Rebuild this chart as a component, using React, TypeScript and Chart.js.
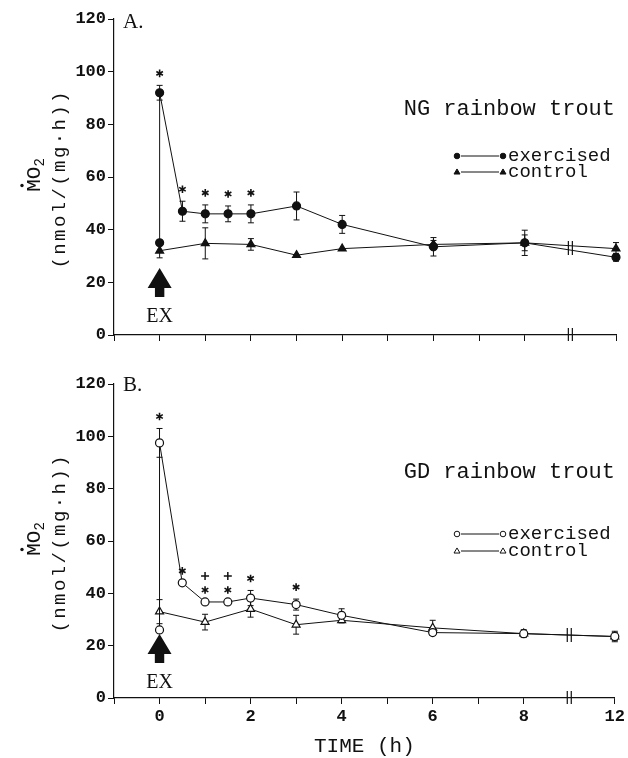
import React, { useEffect, useRef } from 'react';
import { Chart, registerables } from 'chart.js';

Chart.register(...registerables);

// ---------- data ----------
const TIME_EX = [0, 0, 0.5, 1, 1.5, 2, 3, 4, 6, 8, 12];
const TIME_CTRL = [0, 1, 2, 3, 4, 6, 8, 12];

const NG_EX = [35, 92, 47, 46, 46, 46, 49, 42, 33.5, 35, 29.5];
const NG_EX_SEM = [0, 2.8, 3.8, 3.4, 3, 3.4, 5.3, 3.4, 3.5, 4.8, 1.5];
const NG_CTRL = [32, 34.8, 34.4, 30.3, 32.8, 34.4, 35, 32.8];
const NG_CTRL_SEM = [2.7, 5.9, 2.2, 0, 0, 1.5, 3, 2.3];

const GD_EX = [26, 97.5, 44, 36.7, 36.7, 38.2, 35.7, 31.6, 25, 24.6, 23.5];
const GD_EX_SEM = [0, 5.5, 0, 0, 0, 2.9, 2.1, 2.5, 1, 1, 1.5];
const GD_CTRL = [33, 29, 34, 28, 29.7, 26.8, 24.6, 23.5];
const GD_CTRL_SEM = [4.6, 3, 3.1, 3.6, 1, 2.9, 1.5, 2];

// indices into the exercised arrays that carry significance marks
const NG_STAR_IDX = [1, 2, 3, 4, 5];
const NG_PLUS_IDX: number[] = [];
const GD_STAR_IDX = [1, 2, 3, 4, 5, 6];
const GD_PLUS_IDX = [3, 4];

const X_TICK_VALUES = [0, 2, 4, 6, 8, 12];
const Y_MIN = 0;
const Y_MAX = 120;
const Y_STEP = 20;
const X_MIN = -1;
const X_MAX = 10;
const BREAK_POS = 9; // axis position of the break (between 8 h and 12 h)

// ---------- helpers ----------
const axisPos = (t: number) => (t > BREAK_POS ? t - 2 : t);
const X_TICK_LABELS: Record<string, string> = Object.fromEntries(
  X_TICK_VALUES.map((t) => [String(axisPos(t)), String(t)])
);

const INK = '#111111';
const MONO = '"Liberation Mono", "DejaVu Sans Mono", monospace';
const SERIF = '"Liberation Serif", "DejaVu Serif", serif';

type Panel = {
  ex: number[];
  exSem: number[];
  ctrl: number[];
  ctrlSem: number[];
  filled: boolean;
  letter: string;
  name: string;
  stars: number[];
  plus: number[];
  showX: boolean;
  canvasTop: number;
  canvasH: number;
  padTop: number;
  xAxisH: number;
  letterBase: number;
  nameBase: number;
  leg1: number;
  leg2: number;
  exBase: number;
};

const PANELS: Panel[] = [
  {
    ex: NG_EX, exSem: NG_EX_SEM, ctrl: NG_CTRL, ctrlSem: NG_CTRL_SEM,
    filled: true, letter: 'A.', name: 'NG rainbow trout',
    stars: NG_STAR_IDX, plus: NG_PLUS_IDX, showX: false,
    canvasTop: 0, canvasH: 366, padTop: 19, xAxisH: 31,
    letterBase: 9, nameBase: 96, leg1: 137, leg2: 153, exBase: 13,
  },
  {
    ex: GD_EX, exSem: GD_EX_SEM, ctrl: GD_CTRL, ctrlSem: GD_CTRL_SEM,
    filled: false, letter: 'B.', name: 'GD rainbow trout',
    stars: GD_STAR_IDX, plus: GD_PLUS_IDX, showX: true,
    canvasTop: 366, canvasH: 392, padTop: 18, xAxisH: 60,
    letterBase: 7, nameBase: 94, leg1: 150, leg2: 167, exBase: 10,
  },
];

function drawMarker(ctx: CanvasRenderingContext2D, kind: 'circle' | 'triangle', x: number, y: number, r: number, filled: boolean) {
  ctx.beginPath();
  if (kind === 'circle') {
    ctx.arc(x, y, r, 0, Math.PI * 2);
  } else {
    const h = r * 1.7;
    ctx.moveTo(x, y - h * 0.6);
    ctx.lineTo(x + r, y + h * 0.4);
    ctx.lineTo(x - r, y + h * 0.4);
    ctx.closePath();
  }
  ctx.fillStyle = filled ? INK : '#fff';
  ctx.fill();
  ctx.lineWidth = 1;
  ctx.strokeStyle = INK;
  ctx.stroke();
}

function drawAsterisk(ctx: CanvasRenderingContext2D, x: number, y: number) {
  const r = 3.8;
  ctx.save();
  ctx.strokeStyle = INK;
  ctx.lineWidth = 1.6;
  ctx.beginPath();
  for (let k = 0; k < 3; k++) {
    const a = Math.PI / 2 + (k * Math.PI) / 3;
    ctx.moveTo(x + r * Math.cos(a), y + r * Math.sin(a));
    ctx.lineTo(x - r * Math.cos(a), y - r * Math.sin(a));
  }
  ctx.stroke();
  ctx.restore();
}

function drawPlus(ctx: CanvasRenderingContext2D, x: number, y: number) {
  const r = 4;
  ctx.save();
  ctx.strokeStyle = INK;
  ctx.lineWidth = 1.5;
  ctx.beginPath();
  ctx.moveTo(x - r, y);
  ctx.lineTo(x + r, y);
  ctx.moveTo(x, y - r);
  ctx.lineTo(x, y + r);
  ctx.stroke();
  ctx.restore();
}

function makeExtras(panel: Panel) {
  return {
    id: 'extras',
    beforeDatasetsDraw(chart: any) {
      const ctx: CanvasRenderingContext2D = chart.ctx;
      const ys = chart.scales.y;
      const sets = [
        { idx: 0, vals: panel.ex, sem: panel.exSem },
        { idx: 1, vals: panel.ctrl, sem: panel.ctrlSem },
      ];
      ctx.save();
      ctx.strokeStyle = INK;
      ctx.lineWidth = 1;
      for (const s of sets) {
        const meta = chart.getDatasetMeta(s.idx);
        s.vals.forEach((v, j) => {
          const e = s.sem[j];
          if (!e) return;
          const pt = meta.data[j];
          const yT = ys.getPixelForValue(v + e);
          const yB = ys.getPixelForValue(v - e);
          ctx.beginPath();
          ctx.moveTo(pt.x, yT);
          ctx.lineTo(pt.x, yB);
          ctx.moveTo(pt.x - 3, yT);
          ctx.lineTo(pt.x + 3, yT);
          ctx.moveTo(pt.x - 3, yB);
          ctx.lineTo(pt.x + 3, yB);
          ctx.stroke();
        });
      }
      ctx.restore();
    },
    afterDraw(chart: any) {
      const ctx: CanvasRenderingContext2D = chart.ctx;
      const xs = chart.scales.x;
      const ys = chart.scales.y;
      const area = chart.chartArea;
      ctx.save();
      ctx.fillStyle = INK;
      ctx.strokeStyle = INK;

      // significance marks
      const meta = chart.getDatasetMeta(0);
      panel.stars.forEach((j) => {
        const pt = meta.data[j];
        const top = ys.getPixelForValue(panel.ex[j] + (panel.exSem[j] || 0));
        drawAsterisk(ctx, pt.x, top - 12);
      });
      panel.plus.forEach((j) => {
        const pt = meta.data[j];
        const top = ys.getPixelForValue(panel.ex[j] + (panel.exSem[j] || 0));
        drawPlus(ctx, pt.x, top - 26);
      });

      // axis break marks
      const bx = xs.getPixelForValue(BREAK_POS);
      ctx.lineWidth = 1.2;
      ctx.beginPath();
      for (const dx of [-2, 2]) {
        ctx.moveTo(bx + dx, area.bottom - 7);
        ctx.lineTo(bx + dx, area.bottom + 6);
      }
      ctx.stroke();
      // break marks on the data lines (midway between 8 h and 12 h)
      const n1 = panel.ex.length, n2 = panel.ctrl.length;
      const vEx = (panel.ex[n1 - 2] + panel.ex[n1 - 1]) / 2;
      const vCt = (panel.ctrl[n2 - 2] + panel.ctrl[n2 - 1]) / 2;
      const by = ys.getPixelForValue((vEx + vCt) / 2);
      ctx.beginPath();
      for (const dx of [-2, 2]) {
        ctx.moveTo(bx + dx, by - 7);
        ctx.lineTo(bx + dx, by + 7);
      }
      ctx.stroke();

      // exercise arrow
      const ax = xs.getPixelForValue(0);
      const exBase = area.bottom - panel.exBase;
      const tip = exBase - 54;
      ctx.beginPath();
      ctx.moveTo(ax, tip);
      ctx.lineTo(ax + 12, tip + 20);
      ctx.lineTo(ax + 4.7, tip + 20);
      ctx.lineTo(ax + 4.7, tip + 29);
      ctx.lineTo(ax - 4.7, tip + 29);
      ctx.lineTo(ax - 4.7, tip + 20);
      ctx.lineTo(ax - 12, tip + 20);
      ctx.closePath();
      ctx.fill();
      ctx.font = `20px ${SERIF}`;
      ctx.textAlign = 'center';
      ctx.textBaseline = 'alphabetic';
      ctx.fillText('EX', ax, exBase);

      // panel letter
      ctx.textAlign = 'left';
      ctx.font = `21px ${SERIF}`;
      ctx.fillText(panel.letter, 123, area.top + panel.letterBase);

      // panel name
      ctx.textAlign = 'right';
      ctx.font = `22px ${MONO}`;
      ctx.fillText(panel.name, 615, area.top + panel.nameBase);

      // legend
      const rows = [
        { y: area.top + panel.leg1, kind: 'circle' as const, r: 2.8, text: 'exercised' },
        { y: area.top + panel.leg2, kind: 'triangle' as const, r: 3, text: 'control' },
      ];
      for (const row of rows) {
        ctx.lineWidth = 1;
        ctx.beginPath();
        ctx.moveTo(461, row.y);
        ctx.lineTo(499, row.y);
        ctx.stroke();
        drawMarker(ctx, row.kind, 457, row.y, row.r, panel.filled);
        drawMarker(ctx, row.kind, 503, row.y, row.r, panel.filled);
        ctx.fillStyle = INK;
        ctx.textAlign = 'left';
        ctx.font = `19px ${MONO}`;
        ctx.fillText(row.text, 508, row.y + 5);
      }

      // y-axis title (two rotated lines)
      const cy = (area.top + area.bottom) / 2;
      ctx.save();
      ctx.translate(40, cy - 2);
      ctx.rotate(-Math.PI / 2);
      ctx.textAlign = 'left';
      ctx.font = `21px ${MONO}`;
      const mW = ctx.measureText('M').width;
      const oW = ctx.measureText('O').width;
      ctx.font = `14px ${MONO}`;
      const tW = ctx.measureText('2').width;
      let tx = -(mW + oW + tW) / 2;
      ctx.font = `21px ${MONO}`;
      ctx.fillText('M', tx, 0);
      ctx.beginPath();
      ctx.arc(tx + mW / 2, -18, 1.7, 0, Math.PI * 2);
      ctx.fill();
      tx += mW;
      ctx.fillText('O', tx, 0);
      tx += oW;
      ctx.font = `14px ${MONO}`;
      ctx.fillText('2', tx, 4);
      ctx.restore();

      ctx.save();
      ctx.translate(65, cy + 3);
      ctx.rotate(-Math.PI / 2);
      ctx.font = `19px ${MONO}`;
      ctx.textAlign = 'left';
      const label = '(nmol/(mg\u00b7h))';
      const chars = Array.from(label);
      const gap = 2.4;
      const widths = chars.map((c) => ctx.measureText(c).width + gap);
      const total = widths.reduce((a, b) => a + b, 0) - gap;
      let lx = -total / 2;
      chars.forEach((c, k) => {
        ctx.fillText(c, lx, 0);
        lx += widths[k];
      });
      ctx.restore();

      // x-axis title
      if (panel.showX) {
        ctx.textAlign = 'center';
        ctx.font = `21px ${MONO}`;
        ctx.fillText('TIME (h)', (area.left + area.right) / 2, area.bottom + 54);
      }
      ctx.restore();
    },
  };
}

function PanelChart({ panel }: { panel: Panel }) {
  const ref = useRef<HTMLCanvasElement>(null);
  useEffect(() => {
    const canvas = ref.current;
    if (!canvas) return;
    const exData = TIME_EX.map((t, i) => ({ x: axisPos(t), y: panel.ex[i] }));
    const ctData = TIME_CTRL.map((t, i) => ({ x: axisPos(t), y: panel.ctrl[i] }));
    const chart = new Chart(canvas, {
      type: 'scatter',
      data: {
        datasets: [
          {
            label: 'exercised',
            data: exData,
            showLine: true,
            borderColor: INK,
            borderWidth: 1,
            pointStyle: 'circle',
            pointRadius: 4,
            pointBackgroundColor: panel.filled ? INK : '#fff',
            pointBorderColor: INK,
            pointBorderWidth: 1.2,
            clip: false,
          } as any,
          {
            label: 'control',
            data: ctData,
            showLine: true,
            borderColor: INK,
            borderWidth: 1,
            pointStyle: 'triangle',
            pointRadius: 4.6,
            pointBackgroundColor: panel.filled ? INK : '#fff',
            pointBorderColor: INK,
            pointBorderWidth: 1.2,
            clip: false,
          } as any,
        ],
      },
      options: {
        animation: false,
        responsive: false,
        devicePixelRatio: 1,
        events: [],
        layout: { padding: { top: panel.padTop, right: 12, left: 0, bottom: 0 } },
        plugins: { legend: { display: false }, tooltip: { enabled: false } },
        scales: {
          x: {
            type: 'linear',
            min: X_MIN,
            max: X_MAX,
            afterFit: (s: any) => {
              s.height = panel.xAxisH;
            },
            ticks: {
              stepSize: 1,
              autoSkip: false,
              maxRotation: 0,
              padding: 3,
              color: INK,
              font: { family: MONO, size: 17, weight: 'bold' },
              callback: (v: any) => (panel.showX ? X_TICK_LABELS[String(v)] ?? '' : ''),
            },
            grid: {
              drawOnChartArea: false,
              tickLength: 6,
              tickWidth: 1,
              tickColor: (c: any) => (c.tick && c.tick.value === BREAK_POS ? 'rgba(0,0,0,0)' : INK),
            },
            border: { display: true, color: INK, width: 1.2 },
          },
          y: {
            type: 'linear',
            min: Y_MIN,
            max: Y_MAX,
            afterFit: (s: any) => {
              s.width = 114;
            },
            ticks: {
              stepSize: Y_STEP,
              padding: 2,
              color: INK,
              font: { family: MONO, size: 17, weight: 'bold' },
            },
            grid: { drawOnChartArea: false, tickLength: 6, tickWidth: 1, tickColor: INK },
            border: { display: true, color: INK, width: 1.2 },
          },
        },
      } as any,
      plugins: [makeExtras(panel) as any],
    });
    return () => chart.destroy();
  }, [panel]);
  return (
    <canvas
      ref={ref}
      width={628}
      height={panel.canvasH}
      style={{ position: 'absolute', left: 0, top: panel.canvasTop, width: 628, height: panel.canvasH, display: 'block' }}
    />
  );
}

export default function App() {
  return (
    <div style={{ position: 'absolute', left: 0, top: 0, width: 628, height: 758, background: '#fff', overflow: 'hidden' }}>
      {PANELS.map((p, i) => (
        <PanelChart key={i} panel={p} />
      ))}
    </div>
  );
}
